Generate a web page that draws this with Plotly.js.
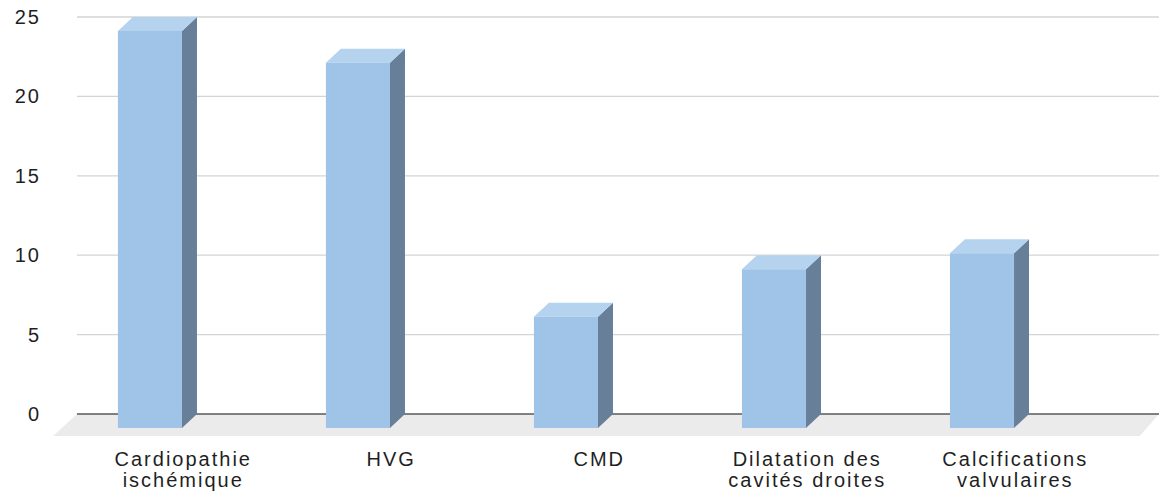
<!DOCTYPE html>
<html>
<head>
<meta charset="utf-8">
<script src="https://cdn.plot.ly/plotly-3.0.1.min.js"></script>
<style>
  html, body { margin: 0; padding: 0; background: #ffffff; }
  #chart { width: 1159px; height: 499px; }
  #chart .xtick text, #chart .x2tick text { letter-spacing: 2px; }
  #chart .ytick text { letter-spacing: 2px; }
</style>
</head>
<body>
<div id="chart"></div>
<script>
// ---- data ----
const categories = ['Cardiopathie<br>ischémique', 'HVG', 'CMD', 'Dilatation des<br>cavités droites', 'Calcifications<br>valvulaires'];
const values = [25, 23, 7, 10, 11];
const yTicks = [0, 5, 10, 15, 20, 25];

// ---- style / geometry constants (category units & value units) ----
const BAR_W = 0.308;      // front face width
const DEPTH_X = 0.072;    // 3D depth offset in x
const DEPTH_Y = 0.88;     // 3D depth offset in y
const FLOOR_DX = 0.115;
const FLOOR_DY = 1.385;
const X_RANGE = [-0.519, 4.851];
const Y_RANGE = [-1.637, 25.44];
const WALL_LEFT = -0.351;
const LABEL_SHIFT = 0.16;

const COL_FRONT = '#9fc4e8';
const COL_TOP = '#b5d3ef';
const COL_SIDE = '#687f99';
const COL_FLOOR = '#ebebeb';
const COL_GRID = '#d4d4d4';
const COL_AXIS = '#595959';

const idx = categories.map((_, i) => i);
const line1 = categories.map(c => c.split('<br>')[0]);
const line2 = categories.map(c => c.split('<br>')[1] || '');
const traces = [];

// gridlines (back wall)
const gx = [], gy = [];
yTicks.filter(v => v !== 0).forEach(v => { gx.push(WALL_LEFT, X_RANGE[1], null); gy.push(v, v, null); });
traces.push({type: 'scatter', mode: 'lines', x: gx, y: gy, line: {color: COL_GRID, width: 1.3}, hoverinfo: 'skip'});

// floor
const yMin = yTicks[0];
traces.push({
  type: 'scatter', mode: 'lines', fill: 'toself', fillcolor: COL_FLOOR,
  x: [WALL_LEFT, X_RANGE[1], X_RANGE[1] - FLOOR_DX * 0.8, WALL_LEFT - FLOOR_DX, WALL_LEFT],
  y: [yMin, yMin, yMin - FLOOR_DY, yMin - FLOOR_DY, yMin],
  line: {width: 0, color: COL_FLOOR}, hoverinfo: 'skip'
});

// axis line at 0
traces.push({type: 'scatter', mode: 'lines', x: [WALL_LEFT, X_RANGE[1]], y: [yMin, yMin],
  line: {color: COL_AXIS, width: 1.4}, hoverinfo: 'skip'});

// 3D bars
idx.forEach(i => {
  const v = values[i];
  const l = i - BAR_W / 2, r = i + BAR_W / 2;
  const fb = yMin - DEPTH_Y, ft = v - DEPTH_Y;
  traces.push({type: 'scatter', mode: 'lines', fill: 'toself', fillcolor: COL_SIDE,
    x: [r, r, r + DEPTH_X, r + DEPTH_X, r], y: [fb, ft, v, yMin, fb],
    line: {width: 0, color: COL_SIDE}, hoverinfo: 'skip'});
  traces.push({type: 'scatter', mode: 'lines', fill: 'toself', fillcolor: COL_TOP,
    x: [l, r, r + DEPTH_X, l + DEPTH_X, l], y: [ft, ft, v, v, ft],
    line: {width: 0, color: COL_TOP}, hoverinfo: 'skip'});
  traces.push({type: 'scatter', mode: 'lines', fill: 'toself', fillcolor: COL_FRONT,
    x: [l, r, r, l, l], y: [fb, fb, ft, ft, fb],
    line: {width: 0, color: COL_FRONT}, hoverinfo: 'skip'});
});

// empty trace to host the second label line axis
traces.push({type: 'scatter', mode: 'lines', x: [], y: [], xaxis: 'x2', yaxis: 'y', hoverinfo: 'skip'});

const font = {family: '"Liberation Sans", Arial, sans-serif', size: 20, color: '#1f1f1f'};

const layout = {
  width: 1159, height: 499,
  margin: {l: 42, r: 0, t: 10, b: 59, pad: 0},
  paper_bgcolor: '#ffffff', plot_bgcolor: '#ffffff',
  showlegend: false,
  font: font,
  xaxis: {
    range: X_RANGE, showgrid: false, zeroline: false, showline: false, ticks: '',
    tickmode: 'array', tickvals: idx.map(i => i + LABEL_SHIFT), ticktext: line1,
    tickfont: font, fixedrange: true, ticklabelstandoff: 5
  },
  xaxis2: {
    overlaying: 'x', anchor: 'y', side: 'bottom',
    range: X_RANGE, showgrid: false, zeroline: false, showline: false, ticks: '',
    tickmode: 'array', tickvals: idx.map(i => i + LABEL_SHIFT), ticktext: line2,
    tickfont: font, fixedrange: true, ticklabelstandoff: 26
  },
  yaxis: {
    range: Y_RANGE, showgrid: false, zeroline: false, showline: false, ticks: '',
    tickmode: 'array', tickvals: yTicks, ticktext: yTicks.map(String),
    tickfont: font, fixedrange: true
  }
};

Plotly.newPlot('chart', traces, layout, {staticPlot: true, displayModeBar: false});
</script>
</body>
</html>
